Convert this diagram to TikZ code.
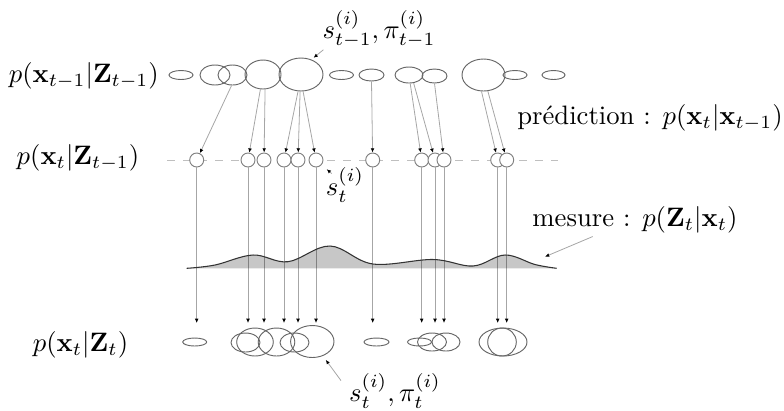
\documentclass[tikz,border=0pt]{standalone}
\usepackage{amsmath,amssymb}
\usepackage{tikz}
\usetikzlibrary{arrows.meta,shapes.geometric,calc}
\def\px{0.375pt}
\tikzset{
  part/.style={ellipse,draw=black!60,line width=0.35pt,inner sep=0pt},
  samp/.style={circle,draw=black!50,fill=white,line width=0.35pt,inner sep=0pt,minimum size=14*\px},
  prop/.style={draw=black!35,line width=0.3pt,-{Latex[length=1.6pt,width=1.4pt,black]}},
  lbl/.style={inner sep=1pt}
}
\begin{document}
\begin{tikzpicture}[x=\px,y=-\px]
\useasboundingbox (0,0) rectangle (784,410);
\node[lbl,anchor=east] (l1) at (162,76) {$p(\mathbf{x}_{t-1}|\mathbf{Z}_{t-1})$};
\node[lbl] (l2) at (78,158) {$p(\mathbf{x}_t|\mathbf{Z}_{t-1})$};
\node[lbl] (l3) at (80.5,345) {$p(\mathbf{x}_t|\mathbf{Z}_t)$};
\foreach \n/\x/\y/\rx/\ry in {1/181/75/12/4.5,2/215/75/15/10,3/232.5/75/14.5/10,4/263/74.5/18/14.5,
  5/301/74.5/22/16.5,6/341.5/75/12/4.5,7/371.5/75/12.5/6,8/409/75/14/8,9/434.5/76/12.5/7,
  10/483.5/75/21.5/16,11/515/75/12/4.5,12/553.5/75/11.5/4.5}
  \node[part,minimum width=2*\rx*\px,minimum height=2*\ry*\px] (a\n) at (\x,\y) {};
\draw[black!25,line width=0.35pt,dash pattern=on 3pt off 3pt] (167,160) -- (558,160);
\foreach \n/\x in {1/196.7,2/248,3/264,4/284,5/298,6/316,7/372.7,8/421.7,9/435,10/444,11/497.7,12/506.7}
  \node[samp] (b\n) at (\x,160) {};
\foreach \s/\t in {a3.-95/b1,a4.-100/b2,a4.-82/b3,a5.-100/b4,a5.-93/b5,a5.-83/b6,a7.-90/b7,
  a8.-82/b8,a8.-60/b9,a9.-90/b10,a10.-97/b11,a10.-75/b12}
  \draw[prop] (\s) -- (\t);
\foreach \n in {1,...,12}{
  \coordinate (e\n) at (b\n.south |- 0,323);
  \draw[prop] (b\n.south) -- (e\n);
}
\def\meas{(186.7,268.3) (215,265) (253,255) (288,261.7) (330,246) (373,264) (433,259.5) (473,266) (505,255) (535,264.5) (556.7,268.3)}
\fill[black,fill opacity=0.22] plot[smooth,tension=0.6] coordinates {\meas} -- cycle;
\draw[black!80,line width=0.4pt] plot[smooth,tension=0.6] coordinates {\meas};
\foreach \n/\x/\y/\rx/\ry in {1/194.7/342/12/4,2/245.5/342.5/14.5/9.5,3/255/342/18.3/14,4/276.5/342/18.3/14,
  5/294.5/342.5/14.5/9.5,6/312.3/341.5/21.7/16,7/376.5/342/12.5/4,8/419.5/342/12/4,9/432/342/14.5/9,
  10/446/342/14/9,11/503/342/24/14,12/502/342/14.3/14}
  \node[part,minimum width=2*\rx*\px,minimum height=2*\ry*\px] (c\n) at (\x,\y) {};
\node[lbl] (la) at (379,29) {$s^{(i)}_{t-1},\pi^{(i)}_{t-1}$};
\node[lbl] (lb) at (345,185) {$s^{(i)}_t$};
\node[lbl] (lc) at (395,391) {$s^{(i)}_t,\pi^{(i)}_t$};
\node[lbl] (lp) at (650,118) {prédiction~: $p(\mathbf{x}_t|\mathbf{x}_{t-1})$};
\node[lbl] (lm) at (635,220) {mesure~: $p(\mathbf{Z}_t|\mathbf{x}_t)$};
\coordinate (hm) at (545,256.7);
\draw[prop,shorten >=1pt] ($(la.south west)+(4,-1)$) -- (a5.55);
\draw[prop,shorten >=2.5pt] ($(lb.north west)+(9,9)$) -- (b6);
\draw[prop,shorten >=1.8pt] ($(lc.north west)+(-5,10)$) -- (c6);
\draw[prop] ($(lm.south west)!0.3!(lm.south east)$) -- (hm);
\end{tikzpicture}
\end{document}
